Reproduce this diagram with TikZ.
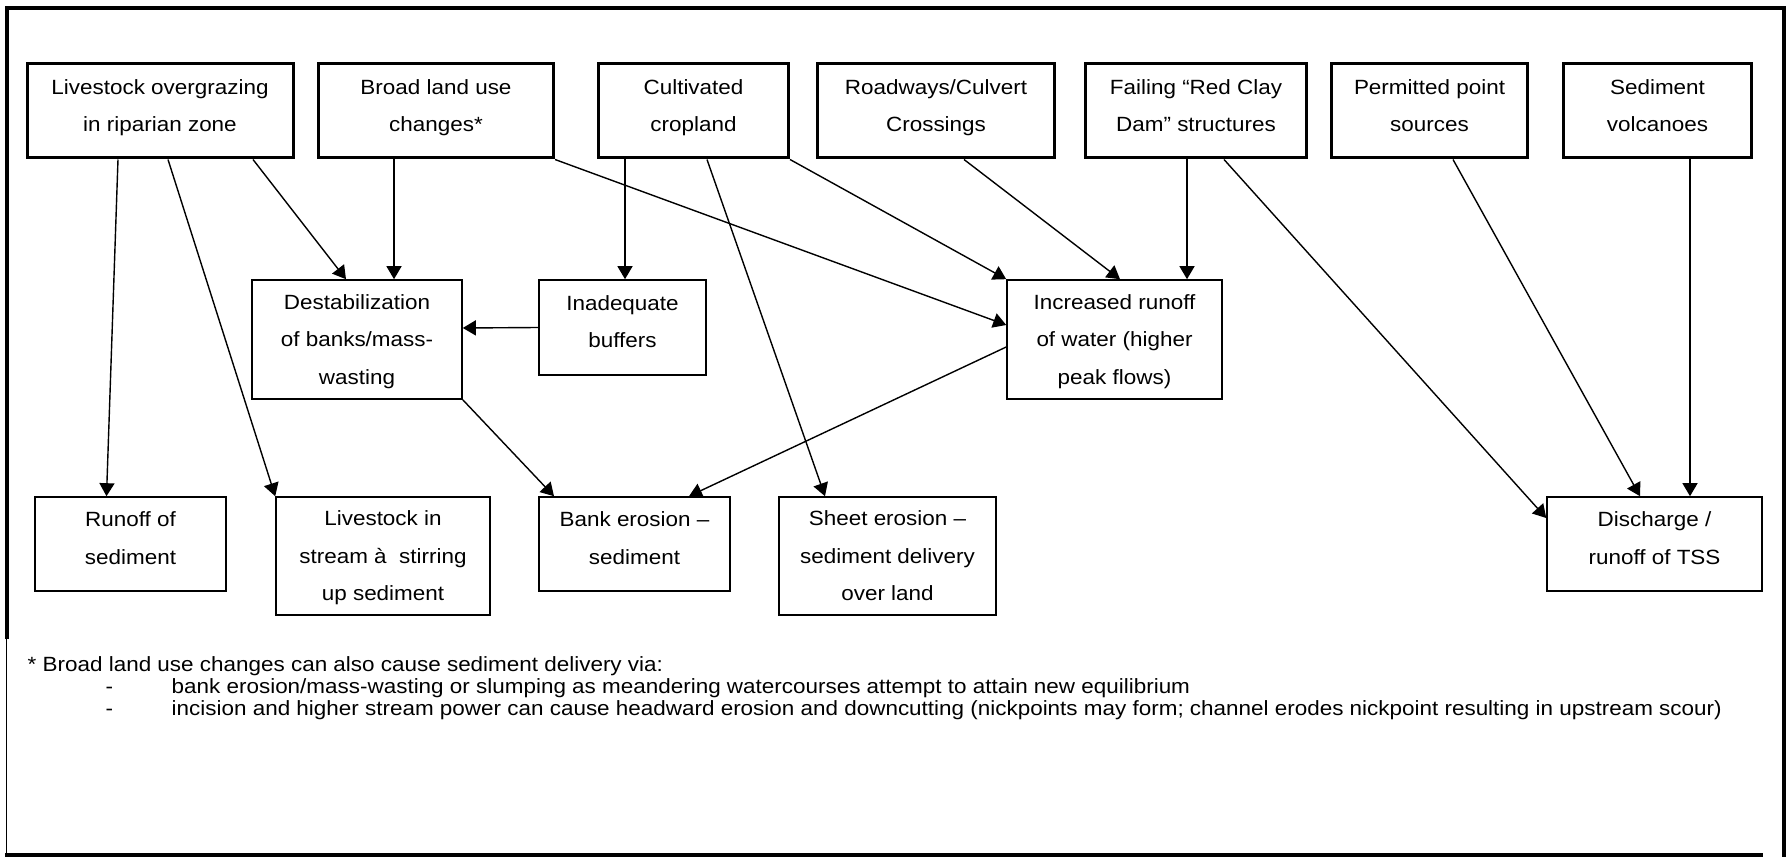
\documentclass[tikz,border=0pt]{standalone}
\usepackage{fontspec}
\setmainfont{Liberation Sans}[FakeStretch=1.09]
\usetikzlibrary{arrows.meta}

\begin{document}
\begin{tikzpicture}[x=1pt, y=-1pt, line width=1.4pt, >={Triangle[length=13pt,width=15pt]},
  every node/.style={fill=white, font=\fontsize{20.6}{37.5}\selectfont}, align=center,
  topbox/.style={draw, line width=3pt, inner sep=0pt, minimum height=94pt, text depth=11pt},
  lowbox/.style={draw, line width=1.6pt, inner sep=0pt, text depth=0pt},
  twoline/.style={text depth=12pt},
  note/.style={fill=none, inner sep=0pt, anchor=base west, font=\fontsize{20.6}{21}\selectfont}]
\useasboundingbox (0,0) rectangle (1787,858);
% outer frame
\draw[line width=4pt] (7,639) -- (7,8) -- (1784,8) -- (1784,857);
\draw[line width=4pt] (5,855) -- (1763,855);
\draw[line width=1.5pt] (6.5,639) -- (6.5,855);

% Specification of nodes (position, etc.)
\node (overgrazing)	[topbox, minimum width=266pt] at (160,111)	{Livestock overgrazing\\in riparian zone};
\node (broadland)	[topbox, minimum width=235pt] at (436,111)	{Broad land use\\changes*};
\node (cropland)	[topbox, minimum width=190pt] at (693.5,111)	{Cultivated\\cropland};
\node (roadways)	[topbox, minimum width=237pt] at (936,111)	{Roadways/Culvert\\Crossings};
\node (redclay)		[topbox, minimum width=221pt] at (1196,111)	{Failing “Red Clay\\Dam” structures};
\node (pointsrc)	[topbox, minimum width=196pt] at (1429.5,111)	{Permitted point\\sources};
\node (volcanoes)	[topbox, minimum width=188pt] at (1657.5,111)	{Sediment\\volcanoes};

\node (destab)		[lowbox, minimum width=210pt, minimum height=119pt] at (357,339.5)	{Destabilization\\of banks/mass-\\wasting};
\node (buffers)		[lowbox, twoline, minimum width=167pt, minimum height=95pt] at (622.5,327.5)	{Inadequate\\buffers};
\node (incrunoff)	[lowbox, minimum width=215pt, minimum height=119pt] at (1114.5,339.5)	{Increased runoff\\of water (higher\\peak flows)};

\node (sedrunoff)	[lowbox, twoline, minimum width=191pt, minimum height=94pt] at (130.5,544)	{Runoff of\\sediment};
\node (instream)	[lowbox, minimum width=214pt, minimum height=118pt] at (383,556)	{Livestock in\\stream à~ stirring\\up sediment};
\node (bankerosion)	[lowbox, twoline, minimum width=191pt, minimum height=94pt] at (634.5,544)	{Bank erosion –\\sediment};
\node (sheeterosion)	[lowbox, minimum width=217pt, minimum height=118pt] at (887.5,556)	{Sheet erosion –\\sediment delivery\\over land};
\node (discharge)	[lowbox, twoline, minimum width=215pt, minimum height=94pt] at (1654.5,544)	{Discharge /\\runoff of TSS};

% footnote
\node (footnote)	[note] at (27,671)	{* Broad land use changes can also cause sediment delivery via:};
\node (dashA)		[note] at (105,693)	{-};
\node (itemA)		[note] at (171,693)	{bank erosion/mass-wasting or slumping as meandering watercourses attempt to attain new equilibrium};
\node (dashB)		[note] at (105,715)	{-};
\node (itemB)		[note] at (171,715)	{incision and higher stream power can cause headward erosion and downcutting (nickpoints may form; channel erodes nickpoint resulting in upstream scour)};

% connectors
\draw[->]	([xshift=-42pt]overgrazing.south) -- ([xshift=-24pt]sedrunoff.north);
\draw[->]	([xshift=8pt]overgrazing.south) -- (instream.north west);
\draw[->]	([xshift=93pt]overgrazing.south) -- ([xshift=-11pt]destab.north);
\draw[->]	([xshift=-42pt]broadland.south) -- ([xshift=37pt]destab.north);
\draw[->]	(broadland.south east) -- ([yshift=14.5pt]incrunoff.west);
\draw[->]	([xshift=-68.5pt]cropland.south) -- ([xshift=2.5pt]buffers.north);
\draw[->]	([xshift=13.5pt]cropland.south) -- ([xshift=-62.5pt]sheeterosion.north);
\draw[->]	(cropland.south east) -- (incrunoff.north west);
\draw[->]	([xshift=28pt]roadways.south) -- ([xshift=5.5pt]incrunoff.north);
\draw[->]	([xshift=-9pt]redclay.south) -- ([xshift=72.5pt]incrunoff.north);
\draw[->]	([xshift=28pt]redclay.south) -- ([yshift=26pt]discharge.west);
\draw[->]	([xshift=23.5pt]pointsrc.south) -- ([xshift=-14.5pt]discharge.north);
\draw[->]	([xshift=32.5pt]volcanoes.south) -- ([xshift=35.5pt]discharge.north);
\draw[->]	(buffers.west) -- ([yshift=11.5pt]destab.east);
\draw[->]	(destab.south east) -- ([xshift=-80.5pt]bankerosion.north);
\draw[->]	([yshift=-7.5pt]incrunoff.west) -- ([xshift=54.5pt]bankerosion.north);

\end{tikzpicture}
\end{document}
